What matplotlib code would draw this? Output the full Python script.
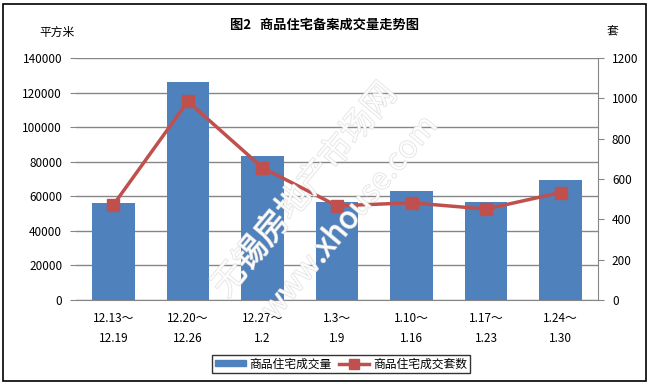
import matplotlib
matplotlib.use('Agg')
import matplotlib.pyplot as plt
import matplotlib.patheffects as pe
from matplotlib.patches import Rectangle, Patch
from matplotlib.lines import Line2D

plt.rcParams['font.family'] = ['Noto Sans CJK SC', 'DejaVu Sans']

# data
weeks = ['12.13～\n12.19', '12.20～\n12.26', '12.27～\n1.2', '1.3～\n1.9',
         '1.10～\n1.16', '1.17～\n1.23', '1.24～\n1.30']
area = [56000, 126000, 83200, 56800, 63000, 56800, 69400]   # 平方米
units = [471, 985, 656, 467, 482, 451, 533]                   # 套

bar_color = '#4F81BD'
line_color = '#C0504D'
grid_color = '#868686'

fig = plt.figure(figsize=(6.5, 3.84), dpi=100)
W, H = 650, 384
ax = fig.add_axes([76 / W, 1 - 300 / H, (598 - 76) / W, (300 - 58) / H])

x = range(len(weeks))
ax.bar(x, area, width=0.57, color=bar_color, zorder=2)
ax.set_ylim(0, 140000)
ax.set_yticks(range(0, 140001, 20000))
ax.set_xlim(-0.5, len(weeks) - 0.5)
ax.yaxis.grid(True, color=grid_color, linewidth=1)
ax.set_axisbelow(True)
ax.set_xticks(list(x))
ax.set_xticklabels(weeks, fontsize=8.5, linespacing=1.6)
ax.tick_params(axis='x', length=0, pad=9)
ax.tick_params(axis='y', length=4, color=grid_color, labelsize=8.5, pad=6)
for s in ['top', 'right', 'left']:
    ax.spines[s].set_visible(False)
ax.spines['bottom'].set_color(grid_color)

ax2 = ax.twinx()
ax2.plot(x, units, color=line_color, linewidth=2.5, marker='s', markersize=8, zorder=3)
ax2.set_ylim(0, 1200)
ax2.set_yticks(range(0, 1201, 200))
ax2.tick_params(axis='y', length=4, color=grid_color, labelsize=8.5, pad=6)
for s in ['top', 'left', 'bottom']:
    ax2.spines[s].set_visible(False)
ax2.spines['right'].set_color(grid_color)

# title and axis units
fig.text(0.5, 1 - 25 / H, '图2   商品住宅备案成交量走势图', ha='center', va='center',
         fontsize=9.5, fontweight='bold')
fig.text(57 / W, 1 - 32 / H, '平方米', ha='center', va='center', fontsize=8.5)
fig.text(612 / W, 1 - 32 / H, '套', ha='center', va='center', fontsize=8.5)

# watermark (outlined, faint)
wm = [pe.withStroke(linewidth=1.0, foreground='#dcdcdc')]
fig.text(305 / W, 1 - 190 / H, '无锡房地产市场网', rotation=50, ha='center', va='center',
         fontsize=24, color='white', alpha=0.85, path_effects=wm, zorder=5)
fig.text(350 / W, 1 - 218 / H, 'www.xhouse.com', rotation=50, ha='center', va='center',
         fontsize=22, color='white', alpha=0.85, path_effects=wm, zorder=5)

# legend
handles = [Patch(color=bar_color),
           Line2D([], [], color=line_color, linewidth=2.5, marker='s', markersize=7)]
leg = fig.legend(handles, ['商品住宅成交量', '商品住宅成交套数'], loc='center',
                 bbox_to_anchor=(341 / W, 1 - 364 / H), ncol=2, fontsize=8.5,
                 frameon=True, fancybox=False, edgecolor='black', handlelength=2.6,
                 handleheight=0.4, columnspacing=0.6, handletextpad=0.3,
                 borderpad=0.25, borderaxespad=0)
leg.get_frame().set_linewidth(1)

# outer border
fig.patches.append(Rectangle((3 / W, 3 / H), 1 - 7 / W, 1 - 7 / H, transform=fig.transFigure,
                             fill=False, edgecolor='black', linewidth=1.2))

fig.savefig('out.png', dpi=100)
